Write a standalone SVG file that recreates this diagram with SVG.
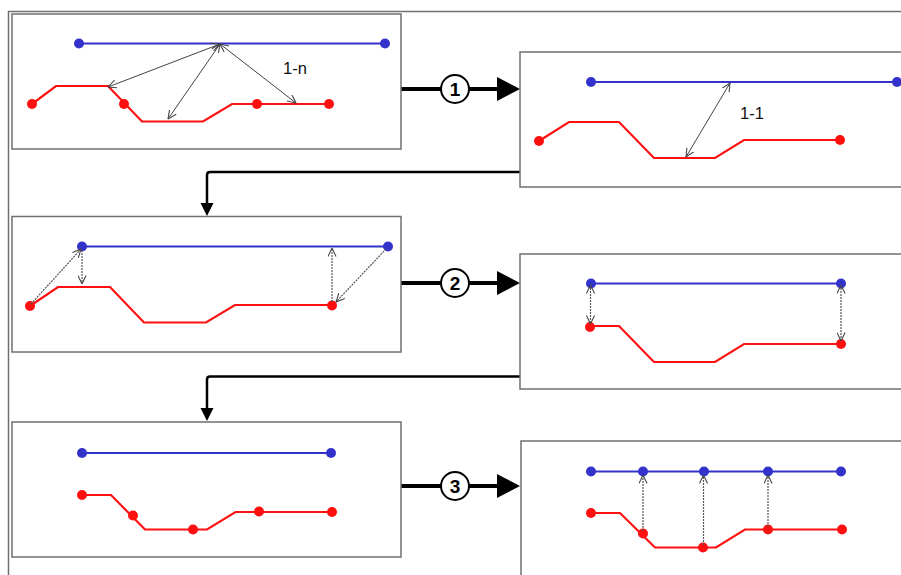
<svg xmlns="http://www.w3.org/2000/svg" width="901" height="575" viewBox="0 0 901 575">
<defs>
<marker id="oa" viewBox="0 0 10 10" refX="9.5" refY="5" markerWidth="9" markerHeight="9" markerUnits="userSpaceOnUse" orient="auto-start-reverse">
<path d="M0,0.5 L9.5,5 L0,9.5" fill="none" stroke="#444" stroke-width="1.2"/>
</marker>
</defs>
<style>
.panel{fill:#fff;stroke:#707070;stroke-width:1.5}
.blue{fill:none;stroke:#3333cc;stroke-width:2.2}
.red{fill:none;stroke:#ff1010;stroke-width:2.2;stroke-linejoin:miter}
.bd{fill:#3333cc}
.rd{fill:#ff1010}
.sol{stroke:#444;stroke-width:1;fill:none}
.dot{stroke:#555;stroke-width:1.2;stroke-dasharray:2 1;fill:none}
.thick{stroke:#000;stroke-width:4;fill:none}
.ret{stroke:#000;stroke-width:2.5;fill:none}
.circ{fill:#fff;stroke:#000;stroke-width:2}
.num{font-family:"Liberation Sans",Arial,sans-serif;font-size:19px;font-weight:bold;text-anchor:middle;fill:#000}
.lbl{font-family:"Liberation Sans",Arial,sans-serif;font-size:16.5px;fill:#111}
</style>
<rect width="901" height="575" fill="#fff"/>
<path d="M8.5,575 V11.5 H901" fill="none" stroke="#707070" stroke-width="1.5"/>

<g id="connectors">
<line class="thick" x1="401" y1="89" x2="506" y2="89"/>
<path d="M497,77 L520,89 L497,101 Z" fill="#000"/>
<circle class="circ" cx="455" cy="89" r="14"/>
<text class="num" x="455" y="96">1</text>

<path class="ret" d="M520,172 H210 Q207,172 207,175 V206"/>
<path d="M200.5,203 L207,216 L213.5,203 Z" fill="#000"/>

<line class="thick" x1="401" y1="283" x2="506" y2="283"/>
<path d="M497,271 L520,283 L497,295 Z" fill="#000"/>
<circle class="circ" cx="455" cy="283" r="14"/>
<text class="num" x="455" y="290">2</text>

<path class="ret" d="M520,376.5 H210 Q207,376.5 207,379.5 V411"/>
<path d="M200.5,408 L207,421 L213.5,408 Z" fill="#000"/>

<line class="thick" x1="401" y1="486" x2="506" y2="486"/>
<path d="M497,474 L520,486 L497,498 Z" fill="#000"/>
<circle class="circ" cx="455" cy="486" r="14"/>
<text class="num" x="455" y="493">3</text>
</g>

<g id="panel1">
<rect class="panel" x="12" y="14" width="389" height="135"/>
<line class="blue" x1="79" y1="43.5" x2="385" y2="43.5"/>
<circle class="bd" cx="79" cy="43.5" r="5"/>
<circle class="bd" cx="385" cy="43.5" r="5"/>
<polyline class="red" points="32,104 56,86 108,86 142,121.5 203,121.5 232,104 329,104"/>
<circle class="rd" cx="32" cy="104" r="5"/>
<circle class="rd" cx="124" cy="104" r="5"/>
<circle class="rd" cx="257" cy="104" r="5"/>
<circle class="rd" cx="329" cy="104" r="5"/>
<line class="sol" x1="220" y1="44" x2="108" y2="87" marker-start="url(#oa)" marker-end="url(#oa)"/>
<line class="sol" x1="220" y1="44" x2="168" y2="119" marker-start="url(#oa)" marker-end="url(#oa)"/>
<line class="sol" x1="220" y1="44" x2="296" y2="103" marker-start="url(#oa)" marker-end="url(#oa)"/>
<text class="lbl" x="283" y="74">1-n</text>
</g>

<g id="panel2">
<rect class="panel" x="520" y="52" width="390" height="135"/>
<line class="blue" x1="591" y1="82" x2="897" y2="82"/>
<circle class="bd" cx="591" cy="82" r="5"/>
<circle class="bd" cx="897" cy="82" r="5"/>
<polyline class="red" points="539,141 569,122 619,122 654,158 715,158 744,140 840,140"/>
<circle class="rd" cx="539" cy="141" r="5"/>
<circle class="rd" cx="840" cy="140" r="5"/>
<line class="sol" x1="730" y1="83" x2="686" y2="157" marker-start="url(#oa)" marker-end="url(#oa)"/>
<text class="lbl" x="740" y="119">1-1</text>
</g>

<g id="panel3">
<rect class="panel" x="12" y="216.5" width="389" height="135.5"/>
<line class="blue" x1="82" y1="246.5" x2="388" y2="246.5"/>
<circle class="bd" cx="82" cy="246.5" r="5"/>
<circle class="bd" cx="388" cy="246.5" r="5"/>
<polyline class="red" points="30,306 58,287 110,287 144,322.5 206,322.5 235,305 332,305"/>
<circle class="rd" cx="30" cy="306" r="5"/>
<circle class="rd" cx="332" cy="305.5" r="5"/>
<line class="dot" x1="31" y1="304" x2="81" y2="249" marker-end="url(#oa)"/>
<line class="dot" x1="82" y1="250" x2="82" y2="284" marker-end="url(#oa)"/>
<line class="dot" x1="332" y1="302" x2="332" y2="248" marker-end="url(#oa)"/>
<line class="dot" x1="386" y1="249" x2="336" y2="302" marker-end="url(#oa)"/>
</g>

<g id="panel4">
<rect class="panel" x="520" y="254" width="390" height="135"/>
<line class="blue" x1="591" y1="283.5" x2="841" y2="283.5"/>
<circle class="bd" cx="591" cy="283.5" r="5"/>
<circle class="bd" cx="841" cy="283.5" r="5"/>
<polyline class="red" points="590,326 619,326 654,362 715,362 744,344 840,344"/>
<circle class="rd" cx="590" cy="327" r="5"/>
<circle class="rd" cx="841" cy="344" r="5"/>
<line class="dot" x1="590.5" y1="285" x2="590.5" y2="324" marker-start="url(#oa)" marker-end="url(#oa)"/>
<line class="dot" x1="841" y1="285" x2="841" y2="341" marker-start="url(#oa)" marker-end="url(#oa)"/>
</g>

<g id="panel5">
<rect class="panel" x="12" y="422" width="389" height="135"/>
<line class="blue" x1="82" y1="453" x2="331" y2="453"/>
<circle class="bd" cx="82" cy="453" r="5"/>
<circle class="bd" cx="331" cy="453" r="5"/>
<polyline class="red" points="82,495 111,495 145,529.5 207,529.5 235.5,512 332,512"/>
<circle class="rd" cx="82" cy="495" r="5"/>
<circle class="rd" cx="133" cy="515.5" r="5"/>
<circle class="rd" cx="193" cy="529.5" r="5"/>
<circle class="rd" cx="259" cy="511.5" r="5"/>
<circle class="rd" cx="332" cy="512" r="5"/>
</g>

<g id="panel6">
<rect class="panel" x="521" y="441" width="390" height="150"/>
<line class="blue" x1="591" y1="471.5" x2="841" y2="471.5"/>
<circle class="bd" cx="591" cy="471.5" r="5"/>
<circle class="bd" cx="643" cy="471.5" r="5"/>
<circle class="bd" cx="704" cy="471.5" r="5"/>
<circle class="bd" cx="768" cy="471.5" r="5"/>
<circle class="bd" cx="841" cy="471.5" r="5"/>
<polyline class="red" points="591,513 620,513 655,547.5 716,547.5 745,529.5 842,529.5"/>
<circle class="rd" cx="591" cy="513" r="5"/>
<circle class="rd" cx="643" cy="533.5" r="5"/>
<circle class="rd" cx="703" cy="547.5" r="5"/>
<circle class="rd" cx="768" cy="529.5" r="5"/>
<circle class="rd" cx="842" cy="529.5" r="5"/>
<line class="dot" x1="643" y1="531" x2="643" y2="475" marker-end="url(#oa)"/>
<line class="dot" x1="703.5" y1="545" x2="703.5" y2="475" marker-end="url(#oa)"/>
<line class="dot" x1="768" y1="527" x2="768" y2="475" marker-end="url(#oa)"/>
</g>
</svg>
